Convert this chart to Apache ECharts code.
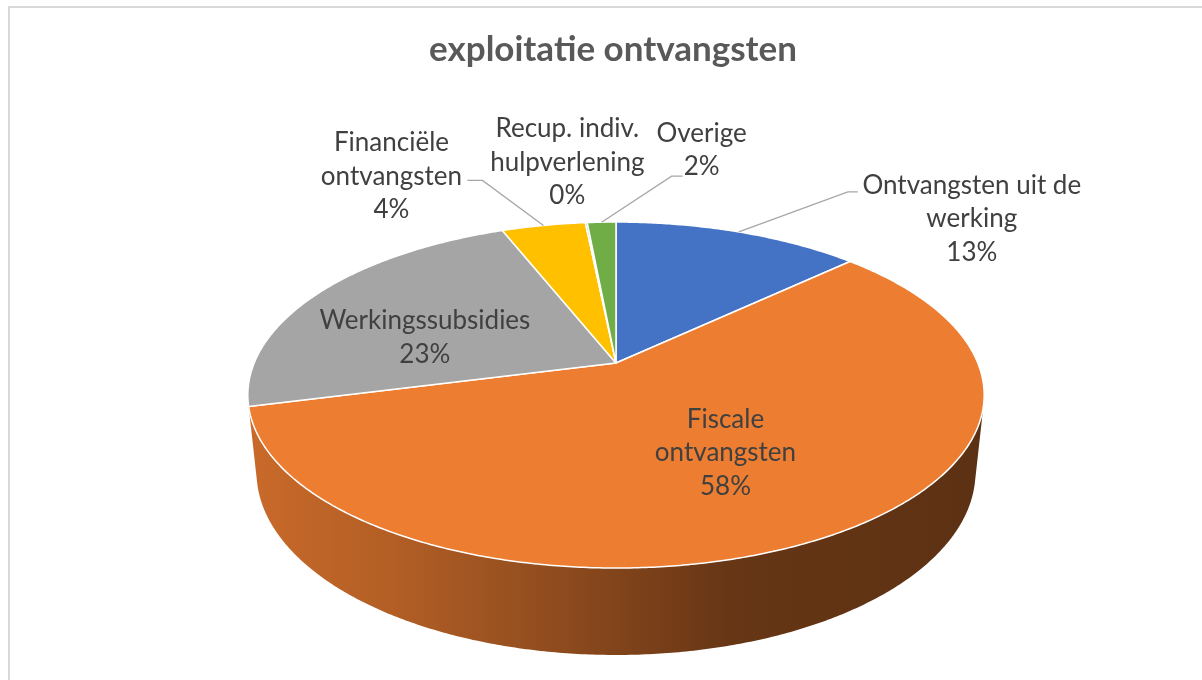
<!DOCTYPE html>
<html>
<head>
<meta charset="utf-8">
<script src="https://cdn.jsdelivr.net/npm/echarts@6/dist/echarts.min.js"></script>
<style>
  html, body { margin: 0; padding: 0; background: #ffffff; }
  #chart { width: 1202px; height: 680px; }
</style>
</head>
<body>
<div id="chart"></div>
<script>
// ---- data ----
const chartTitle = 'exploitatie ontvangsten';
const categories = [
  'Ontvangsten uit de\nwerking',
  'Fiscale\nontvangsten',
  'Werkingssubsidies',
  'Financiële\nontvangsten',
  'Recup. indiv.\nhulpverlening',
  'Overige'
];
const shares = [13, 58, 23, 4.4, 0.1, 1.5];   // percent of total receipts
const sliceColors = ['#4472C4', '#ED7D31', '#A5A5A5', '#FFC000', '#5B9BD5', '#70AD47'];

// ---- 3D view of the disc (perspective camera looking down on the pie) ----
const view = {
  cx: 616, cy: 363,      // screen position of the disc centre
  focal: 1733,           // focal length in px
  dist: 4.79,            // camera distance, in disc radii
  tilt: 27.5,            // camera elevation, degrees
  depth: 0.242           // disc thickness, in disc radii
};

// label placement per slice: radial factor, offset from anchor, optional leader line
const labelLayout = [
  { r: 1.0,  dx: 233,  dy: -13, leader: [[-124, -27], [-114, -27]] },
  { r: 0.57, dx: 0,    dy: -2 },
  { r: 0.6,  dx: -7,   dy: 18 },
  { r: 1.0,  dx: -152, dy: -49, leader: [[91, 4], [76, 4]] },
  { r: 1.0,  dx: -19,  dy: -60 },
  { r: 1.0,  dx: 100,  dy: -72, leader: [[-30, 26], [-19, 26]] }
];

const total = shares.reduce((a, b) => a + b, 0);
const startDeg = [];
let acc = 0;
shares.forEach(v => { startDeg.push(acc / total * 360); acc += v; });
const endDeg = shares.map((v, i) => startDeg[i] + v / total * 360);

const tiltRad = view.tilt * Math.PI / 180;
const sT = Math.sin(tiltRad), cT = Math.cos(tiltRad);

// angle measured clockwise from 12 o'clock; r in disc radii; z = depth below top face
function project(deg, r, z) {
  const a = deg * Math.PI / 180;
  const u = r * Math.sin(a), v = -r * Math.cos(a);
  const w = view.dist + z * sT - v * cT;
  return [view.cx + view.focal * u / w, view.cy + view.focal * (z * cT + v * sT) / w];
}

function arc(d0, d1, z) {
  const pts = [];
  const n = Math.max(2, Math.ceil(Math.abs(d1 - d0) / 0.5));
  for (let k = 0; k <= n; k++) pts.push(project(d0 + (d1 - d0) * k / n, 1, z));
  return pts;
}

// visible part of the rim: where the outer wall faces the camera
const frontHalf = Math.acos(-1 / (view.dist * cT)) * 180 / Math.PI;
const frontLo = frontHalf, frontHi = 360 - frontHalf;
const rimLeft = project(frontHi, 1, 0)[0];
const rimRight = project(frontLo, 1, 0)[0];

function shade(hex, f) {
  const n = parseInt(hex.slice(1), 16);
  const r = Math.round(((n >> 16) & 255) * f), g = Math.round(((n >> 8) & 255) * f), b = Math.round((n & 255) * f);
  return 'rgb(' + r + ',' + g + ',' + b + ')';
}

function sideItem(params, api) {
  const i = params.dataIndex;
  const b0 = Math.max(startDeg[i], frontLo), b1 = Math.min(endDeg[i], frontHi);
  if (b1 <= b0) return { type: 'group', children: [] };
  const top = arc(b0, b1, 0);
  const bottom = arc(b1, b0, view.depth);
  const c = sliceColors[i];
  return {
    type: 'polygon',
    shape: { points: top.concat(bottom) },
    style: {
      fill: new echarts.graphic.LinearGradient(rimLeft, 0, rimRight, 0, [
        { offset: 0, color: shade(c, 0.85) },
        { offset: 0.2, color: shade(c, 0.75) },
        { offset: 0.38, color: shade(c, 0.63) },
        { offset: 0.52, color: shade(c, 0.53) },
        { offset: 0.66, color: shade(c, 0.43) },
        { offset: 1, color: shade(c, 0.39) }
      ], true),
      stroke: null
    }
  };
}

function topItem(params, api) {
  const i = params.dataIndex;
  const pts = [project(0, 0, 0)].concat(arc(startDeg[i], endDeg[i], 0));
  return {
    type: 'polygon',
    shape: { points: pts },
    style: { fill: sliceColors[i], stroke: '#ffffff', lineWidth: 1.5, lineJoin: 'round' }
  };
}

function labelItem(params, api) {
  const i = params.dataIndex;
  const L = labelLayout[i];
  const mid = (startDeg[i] + endDeg[i]) / 2;
  const base = project(mid, L.r, 0);
  const x = base[0] + L.dx, y = base[1] + L.dy;
  const pct = Math.round(api.value(1) / total * 100);
  const children = [];
  if (L.leader) {
    const rim = project(mid, 1, 0);
    children.push({
      type: 'polyline',
      shape: { points: [rim, [x + L.leader[0][0], y + L.leader[0][1]], [x + L.leader[1][0], y + L.leader[1][1]]] },
      style: { stroke: '#A6A6A6', lineWidth: 1.3, fill: null }
    });
  }
  children.push({
    type: 'text',
    x: x, y: y,
    style: {
      text: categories[i] + '\n' + pct + '%',
      fill: '#404040',
      font: '26px Lato',
      lineHeight: 33.5,
      align: 'center',
      verticalAlign: 'middle'
    }
  });
  return { type: 'group', children: children };
}

const seriesData = shares.map((v, i) => [i, v]);

const chart = echarts.init(document.getElementById('chart'), null, { renderer: 'canvas' });
chart.setOption({
  animation: false,
  backgroundColor: '#ffffff',
  graphic: [
    { type: 'rect', z: 0, shape: { x: 9, y: 7, width: 1400, height: 900 },
      style: { fill: null, stroke: '#D9D9D9', lineWidth: 2 } },
    { type: 'text', z: 10, x: 613, y: 50,
      style: { text: chartTitle, font: 'bold 35px Lato', fill: '#595959', align: 'center', verticalAlign: 'middle' } }
  ],
  series: [
    { type: 'custom', name: 'wall', coordinateSystem: 'none', data: seriesData, renderItem: sideItem, z: 1 },
    { type: 'custom', name: 'top', coordinateSystem: 'none', data: seriesData, renderItem: topItem, z: 2 },
    { type: 'custom', name: 'labels', coordinateSystem: 'none', data: seriesData, renderItem: labelItem, z: 3 }
  ]
});
</script>
</body>
</html>
